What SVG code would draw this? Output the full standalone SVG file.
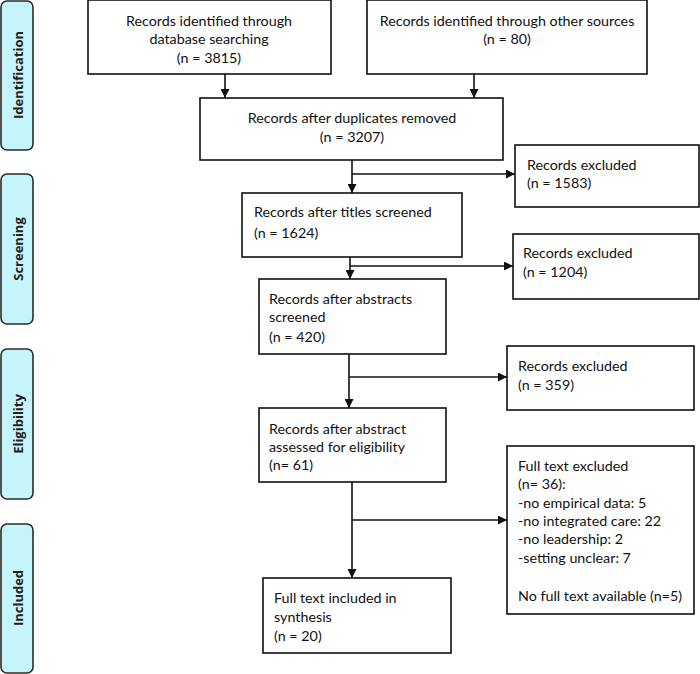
<svg xmlns="http://www.w3.org/2000/svg" width="700" height="674" viewBox="0 0 700 674">
<defs>
<style>
.bar{fill:#c6f4fb;stroke:#2b2b2b;stroke-width:1.6}
.bl{font-family:"Open Sans","DejaVu Sans",sans-serif;font-weight:bold;font-size:13px;fill:#222;text-anchor:middle}
.box{fill:#fff;stroke:#111;stroke-width:1.6}
.t{font-family:Lato,"Liberation Sans",sans-serif;font-size:14.3px;fill:#111}
.c{text-anchor:middle}
.ln{stroke:#111;stroke-width:1.6;fill:none}
</style>
<marker id="ah2" viewBox="0 0 10 10" refX="10" refY="5" markerWidth="9" markerHeight="9" orient="auto" markerUnits="userSpaceOnUse">
<path d="M0,0 L10,5 L0,10 Z" fill="#111"/>
</marker>
</defs>
<rect width="700" height="674" fill="#fff"/>
<g id="phase-identification"><rect class="bar" x="1" y="1" width="32" height="149" rx="6"/><text class="bl" transform="translate(22.5,75) rotate(-90)">Identification</text></g>
<g id="phase-screening"><rect class="bar" x="1" y="174" width="32" height="150" rx="6"/><text class="bl" transform="translate(22.5,249) rotate(-90)">Screening</text></g>
<g id="phase-eligibility"><rect class="bar" x="1" y="349" width="32" height="150" rx="6"/><text class="bl" transform="translate(22.5,424) rotate(-90)">Eligibility</text></g>
<g id="phase-included"><rect class="bar" x="1" y="524" width="32" height="149" rx="6"/><text class="bl" transform="translate(22.5,598) rotate(-90)">Included</text></g>

<g id="connectors">
<line class="ln" x1="225" y1="74" x2="225" y2="98" marker-end="url(#ah2)"/>
<line class="ln" x1="474" y1="74" x2="474" y2="98" marker-end="url(#ah2)"/>
<line class="ln" x1="352" y1="160" x2="352" y2="193" marker-end="url(#ah2)"/>
<line class="ln" x1="352" y1="174" x2="515" y2="174" marker-end="url(#ah2)"/>
<line class="ln" x1="350" y1="257" x2="350" y2="279" marker-end="url(#ah2)"/>
<line class="ln" x1="350" y1="266" x2="513" y2="266" marker-end="url(#ah2)"/>
<line class="ln" x1="349" y1="354" x2="349" y2="408" marker-end="url(#ah2)"/>
<line class="ln" x1="349" y1="377" x2="507" y2="377" marker-end="url(#ah2)"/>
<line class="ln" x1="352" y1="482" x2="352" y2="578" marker-end="url(#ah2)"/>
<line class="ln" x1="352" y1="520" x2="507" y2="520" marker-end="url(#ah2)"/>
</g>

<g id="db-search"><rect class="box" x="88" y="0" width="243" height="74"/>
<text class="t c" x="209" y="26">Records identified through</text>
<text class="t c" x="209" y="44">database searching</text>
<text class="t c" x="209" y="63">(n = 3815)</text></g>
<g id="other-sources"><rect class="box" x="367" y="0" width="280" height="74"/>
<text class="t c" x="507" y="26">Records identified through other sources</text>
<text class="t c" x="507" y="44">(n = 80)</text></g>
<g id="duplicates-removed"><rect class="box" x="200" y="98" width="303" height="62"/>
<text class="t c" x="352" y="123">Records after duplicates removed</text>
<text class="t c" x="352" y="142">(n = 3207)</text></g>
<g id="excluded-1583"><rect class="box" x="515" y="145" width="184" height="62"/>
<text class="t" x="527" y="170">Records excluded</text>
<text class="t" x="527" y="188">(n = 1583)</text></g>
<g id="titles-screened"><rect class="box" x="242" y="193" width="220" height="64"/>
<text class="t" x="254" y="217">Records after titles screened</text>
<text class="t" x="254" y="238">(n = 1624)</text></g>
<g id="excluded-1204"><rect class="box" x="513" y="234" width="186" height="65"/>
<text class="t" x="523" y="258">Records excluded</text>
<text class="t" x="523" y="277">(n = 1204)</text></g>
<g id="abstracts-screened"><rect class="box" x="259" y="279" width="187" height="75"/>
<text class="t" x="269" y="304">Records after abstracts</text>
<text class="t" x="269" y="322">screened</text>
<text class="t" x="269" y="342">(n = 420)</text></g>
<g id="excluded-359"><rect class="box" x="507" y="346" width="187" height="64"/>
<text class="t" x="518" y="371">Records excluded</text>
<text class="t" x="518" y="390">(n = 359)</text></g>
<g id="eligibility-assessed"><rect class="box" x="259" y="408" width="187" height="74"/>
<text class="t" x="269" y="434">Records after abstract</text>
<text class="t" x="269" y="452">assessed for eligibility</text>
<text class="t" x="269" y="470">(n= 61)</text></g>
<g id="fulltext-excluded"><rect class="box" x="507" y="446" width="187" height="168"/>
<text class="t" x="518" y="471">Full text excluded</text>
<text class="t" x="518" y="489">(n= 36):</text>
<text class="t" x="518" y="508">-no empirical data: 5</text>
<text class="t" x="518" y="526">-no integrated care: 22</text>
<text class="t" x="518" y="544">-no leadership: 2</text>
<text class="t" x="518" y="563">-setting unclear: 7</text>
<text class="t" x="518" y="601">No full text available (n=5)</text></g>
<g id="included-synthesis"><rect class="box" x="263" y="578" width="188" height="75"/>
<text class="t" x="274" y="603">Full text included in</text>
<text class="t" x="274" y="622">synthesis</text>
<text class="t" x="274" y="641">(n = 20)</text></g>
</svg>
